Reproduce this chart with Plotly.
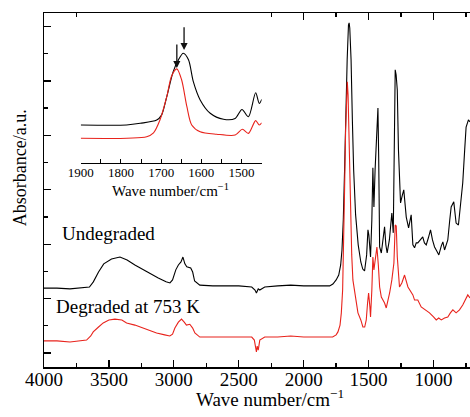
import plotly.graph_objects as go

# ---------------- data ----------------
undeg_wn = [4000, 3900, 3800, 3700, 3650, 3620, 3580, 3540, 3480, 3415, 3360, 3300, 3260, 3200, 3120,
            3060, 3030, 3010, 2985, 2965, 2945, 2930, 2915, 2900, 2870, 2855, 2840, 2800, 2700, 2600,
            2500, 2400, 2375, 2364, 2350, 2338, 2300, 2200, 2100, 2000, 1900, 1800, 1775, 1750, 1730,
            1715, 1705, 1695, 1685, 1675, 1665, 1655, 1650, 1645, 1635, 1625, 1615, 1600, 1580, 1560,
            1545, 1531, 1515, 1505, 1498, 1485, 1475, 1467, 1459, 1450, 1441, 1432, 1428, 1422, 1415,
            1402, 1390, 1377, 1367, 1357, 1340, 1321, 1310, 1302, 1295, 1288, 1279, 1270, 1254, 1240,
            1229, 1210, 1192, 1172, 1159, 1146, 1133, 1121, 1100, 1083, 1070, 1056, 1040, 1023, 1008,
            992, 975, 959, 940, 928, 915, 900, 890, 875, 864, 844, 826, 808, 790, 775, 760, 749, 731, 719]
undeg_abs = [2.90, 2.90, 2.87, 2.90, 2.94, 3.13, 3.49, 3.79, 3.97, 4.04, 3.93, 3.75, 3.64, 3.49, 3.27,
             3.13, 3.09, 3.20, 3.57, 3.75, 3.86, 4.04, 3.79, 3.68, 3.64, 3.49, 3.16, 3.01, 2.98, 2.98,
             2.98, 2.94, 2.83, 2.72, 2.87, 2.83, 2.94, 2.98, 3.01, 2.98, 2.98, 2.98, 3.05, 3.20, 3.38,
             3.75, 4.30, 5.40, 7.24, 9.45, 11.29, 12.57, 12.65, 12.46, 11.29, 9.08, 7.24, 5.59, 4.49, 3.86,
             3.60, 3.53, 4.12, 5.04, 4.85, 4.04, 5.40, 7.32, 5.88, 7.24, 8.24, 8.71, 9.52, 7.61, 4.41,
             4.19, 4.67, 5.15, 4.49, 4.19, 4.67, 5.66, 4.93, 7.98, 10.92, 10.74, 10.18, 7.98, 6.03, 6.32,
             6.51, 5.51, 5.11, 5.59, 4.49, 4.38, 4.56, 4.56, 4.67, 4.78, 4.56, 4.49, 4.74, 5.04, 4.67,
             4.41, 4.26, 4.12, 4.45, 4.60, 4.30, 4.49, 4.67, 5.40, 5.88, 6.07, 5.29, 5.22, 5.96, 6.76,
             7.98, 8.82, 9.08, 9.01]

deg_wn = [4000, 3900, 3800, 3700, 3672, 3640, 3621, 3580, 3544, 3500, 3454, 3400, 3364, 3300, 3262,
          3200, 3133, 3070, 3031, 3010, 2992, 2965, 2941, 2920, 2903, 2877, 2855, 2838, 2800, 2700,
          2600, 2500, 2400, 2380, 2370, 2364, 2358, 2350, 2338, 2300, 2200, 2100, 2000, 1900, 1800,
          1777, 1750, 1736, 1720, 1710, 1700, 1692, 1685, 1677, 1670, 1664, 1658, 1650, 1640, 1630,
          1621, 1600, 1582, 1560, 1544, 1530, 1518, 1508, 1500, 1490, 1485, 1475, 1467, 1459, 1450,
          1436, 1425, 1415, 1402, 1390, 1377, 1364, 1350, 1338, 1321, 1305, 1295, 1287, 1279, 1262,
          1244, 1223, 1197, 1185, 1159, 1146, 1121, 1095, 1060, 1031, 1000, 979, 960, 940, 915,
          890, 870, 851, 826, 800, 775, 750, 736, 719]
deg_abs = [0.96, 0.96, 0.92, 0.96, 0.99, 1.14, 1.29, 1.47, 1.62, 1.73, 1.76, 1.73, 1.62, 1.54, 1.47,
           1.36, 1.25, 1.18, 1.14, 1.21, 1.43, 1.65, 1.76, 1.65, 1.54, 1.57, 1.43, 1.25, 1.10, 1.10,
           1.10, 1.10, 1.10, 0.99, 0.70, 0.55, 0.77, 0.62, 0.99, 1.10, 1.10, 1.14, 1.10, 1.10, 1.10,
           1.10, 1.18, 1.29, 1.54, 1.99, 2.83, 4.41, 6.51, 8.71, 10.00, 10.48, 10.00, 7.98, 5.59, 4.12,
           3.20, 2.46, 1.99, 1.73, 1.47, 1.47, 1.73, 2.35, 2.72, 2.21, 1.84, 2.83, 4.04, 3.57, 3.86,
           4.41, 3.75, 2.94, 2.57, 2.46, 2.35, 2.17, 2.46, 2.72, 3.20, 3.82, 5.22, 5.18, 4.04, 2.94,
           3.09, 3.38, 2.94, 2.83, 2.65, 2.46, 2.46, 2.21, 2.10, 1.99, 1.84, 1.73, 1.80, 1.73, 1.80,
           1.84, 1.99, 2.10, 1.99, 2.10, 2.28, 2.54, 2.65, 2.54]

inset_undeg_wn = [1900, 1786, 1752, 1711, 1699, 1686, 1670, 1657, 1645, 1632, 1620, 1603, 1578, 1545,
                  1516, 1499, 1483, 1465, 1456, 1450]
inset_undeg_abs = [1.40, 1.40, 1.46, 1.58, 1.76, 2.44, 3.36, 3.79, 4.03, 3.79, 2.99, 2.32, 1.83, 1.61,
                   1.64, 1.97, 1.70, 2.58, 2.19, 2.34]
inset_deg_wn = [1900, 1736, 1719, 1703, 1686, 1674, 1661, 1649, 1636, 1624, 1603, 1562, 1516, 1498,
                1483, 1465, 1456, 1450]
inset_deg_abs = [0.91, 0.97, 1.11, 1.58, 2.44, 3.20, 3.46, 3.05, 2.07, 1.40, 1.15, 1.06, 1.03, 1.24,
                 1.09, 1.56, 1.40, 1.48]

# arrow markers over the amide peaks in the inset: (wave number, tip, tail)
arrow_wn = [1643, 1661]
arrow_tip = [4.15, 3.49]
arrow_tail = [5.04, 4.41]

main_ticks = [4000, 3500, 3000, 2500, 2000, 1500, 1000]
inset_ticks = [1900, 1800, 1700, 1600, 1500]

label_undeg = "Undegraded"
label_deg = "Degraded at 753 K"

# ---------------- figure ----------------
FONT = "Liberation Serif"
BLACK = "#000000"
RED = "#e8231c"

fig = go.Figure()
fig.add_trace(go.Scatter(x=undeg_wn, y=undeg_abs, mode="lines",
                         line=dict(color=BLACK, width=1.1), showlegend=False, hoverinfo="skip"))
fig.add_trace(go.Scatter(x=deg_wn, y=deg_abs, mode="lines",
                         line=dict(color=RED, width=1.1), showlegend=False, hoverinfo="skip"))
fig.add_trace(go.Scatter(x=inset_undeg_wn, y=inset_undeg_abs, mode="lines", xaxis="x2", yaxis="y2",
                         line=dict(color=BLACK, width=1.1, shape="spline", smoothing=0.8),
                         showlegend=False, hoverinfo="skip"))
fig.add_trace(go.Scatter(x=inset_deg_wn, y=inset_deg_abs, mode="lines", xaxis="x2", yaxis="y2",
                         line=dict(color=RED, width=1.1, shape="spline", smoothing=0.8),
                         showlegend=False, hoverinfo="skip"))

annotations = []
for wn, tip, tail in zip(arrow_wn, arrow_tip, arrow_tail):
    annotations.append(dict(x=wn, y=tip, ax=wn, ay=tail, xref="x2", yref="y2",
                            axref="x2", ayref="y2", showarrow=True, arrowhead=2,
                            arrowsize=1.1, arrowwidth=1.3, arrowcolor="#111", text=""))

annotations += [
    dict(text=label_undeg, x=0.0376, y=0.3785, xref="paper", yref="paper",
         xanchor="left", yanchor="middle", showarrow=False, font=dict(size=19, family=FONT, color="#000")),
    dict(text=label_deg, x=0.0235, y=0.1723, xref="paper", yref="paper",
         xanchor="left", yanchor="middle", showarrow=False, font=dict(size=19, family=FONT, color="#000")),
    dict(text="Wave number/cm<sup>\u22121</sup>", x=0.53, y=-0.088, xref="paper", yref="paper",
         xanchor="center", yanchor="middle", showarrow=False, font=dict(size=19, family=FONT, color="#000")),
    dict(text="Absorbance/a.u.", x=-0.056, y=0.562, xref="paper", yref="paper", textangle=-90,
         xanchor="center", yanchor="middle", showarrow=False, font=dict(size=18, family=FONT, color="#000")),
    dict(text="Wave number/cm<sup>\u22121</sup>", x=0.298, y=0.5, xref="paper", yref="paper",
         xanchor="center", yanchor="middle", showarrow=False, font=dict(size=15, family=FONT, color="#000")),
]

fig.update_layout(
    width=470, height=417,
    margin=dict(l=44, r=0, t=13, b=50),
    paper_bgcolor="white", plot_bgcolor="white",
    font=dict(family=FONT, color="#000"),
    showlegend=False,
    hovermode=False,
    annotations=annotations,
    xaxis=dict(range=[4000, 719], tickvals=main_ticks, ticks="inside", ticklen=7, tickwidth=1.3,
               tickcolor="#000", showline=True, linecolor="#000", linewidth=1.5, mirror="allticks",
               showgrid=False, zeroline=False, tickfont=dict(size=19, family=FONT, color="#000"),
               ticklabelstandoff=-5,
               minor=dict(dtick=250, tick0=4000, ticks="inside", ticklen=4, tickwidth=1.3, tickcolor="#000")),
    yaxis=dict(range=[0, 13.01], tick0=0.515, dtick=2, ticks="inside", ticklen=7, tickwidth=1.3,
               tickcolor="#000", showline=True, linecolor="#000", linewidth=1.5,
               showticklabels=False, showgrid=False, zeroline=False,
               minor=dict(dtick=1, tick0=0.515, ticks="inside", ticklen=4, tickwidth=1.3, tickcolor="#000")),
    xaxis2=dict(domain=[0.0862, 0.511], anchor="y2", range=[1900, 1450], tickvals=inset_ticks,
                ticks="inside", ticklen=4, tickwidth=1, tickcolor="#000", showline=True,
                linecolor="#000", linewidth=1.2, showgrid=False, zeroline=False,
                tickfont=dict(size=13, family=FONT, color="#000"), ticklabelstandoff=-3,
                minor=dict(dtick=50, tick0=1900, ticks="inside", ticklen=4, tickwidth=1, tickcolor="#000")),
    yaxis2=dict(domain=[0.576, 1.0], anchor="x2", range=[0, 5.51], visible=False),
)

fig.write_html("out.html", config={"displayModeBar": False, "staticPlot": True},
               post_script="document.body.style.margin='0';document.body.style.overflow='hidden';")
